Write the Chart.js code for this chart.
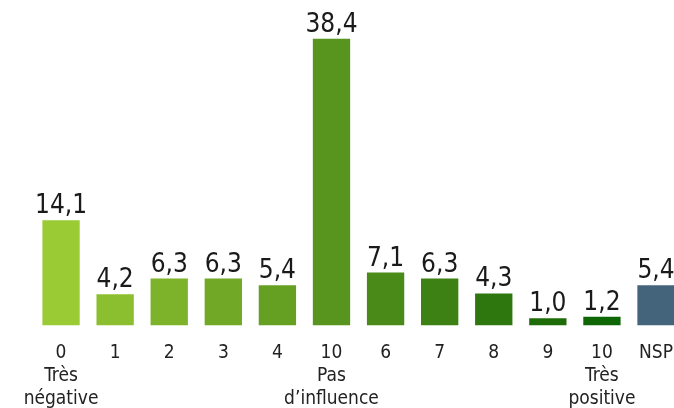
<!DOCTYPE html>
<html>
<head>
<meta charset="utf-8">
<script src="https://cdn.jsdelivr.net/npm/chart.js@4.4.1/dist/chart.umd.min.js"></script>
<style>
  html, body { margin: 0; padding: 0; background: #fff; overflow: hidden; }
  #wrap { width: 689px; height: 408px; }
</style>
</head>
<body>
<div id="wrap"><canvas id="chart"></canvas></div>
<script>
// Categories (first line = score, following lines = caption)
const categories = [
    ['0', 'Très', 'négative'], ['1'], ['2'], ['3'], ['4'],
    ['10', 'Pas', 'd\u2019influence'], ['6'], ['7'], ['8'], ['9'],
    ['10', 'Très', 'positive'], ['NSP']
];
const values = [14.1, 4.2, 6.3, 6.3, 5.4, 38.4, 7.1, 6.3, 4.3, 1.0, 1.2, 5.4];
const barColors = [
    '#9ACB34', '#8CBF2F', '#7DB32A', '#71A926', '#65A022', '#57951E',
    '#4A8A19', '#3D8013', '#2E760E', '#1E6C08', '#0E6604', '#44647C'
];

const fontFamily = "'DejaVu Sans Condensed', Roboto, sans-serif";

// Draws the value above each bar, French decimal comma
const valueLabels = {
    id: 'valueLabels',
    afterDatasetsDraw(chart) {
        const ctx = chart.ctx;
        const meta = chart.getDatasetMeta(0);
        ctx.save();
        ctx.font = '26px ' + fontFamily;
        ctx.fillStyle = '#1a1a1a';
        ctx.textAlign = 'center';
        ctx.textBaseline = 'alphabetic';
        meta.data.forEach(function (bar, i) {
            const txt = values[i].toFixed(1).replace('.', ',');
            ctx.fillText(txt, bar.x, bar.y - 7);
        });
        ctx.restore();
    }
};

const ctx = document.getElementById('chart').getContext('2d');
new Chart(ctx, {
    type: 'bar',
    data: {
        labels: categories,
        datasets: [{
            data: values,
            backgroundColor: barColors,
            borderWidth: 0,
            barPercentage: 0.69,
            categoryPercentage: 1.0
        }]
    },
    options: {
        responsive: true,
        maintainAspectRatio: false,
        animation: false,
        layout: {
            padding: {left: 34, right: 0, top: 0, bottom: -18}
        },
        plugins: {
            legend: {display: false},
            tooltip: {enabled: false}
        },
        scales: {
            x: {
                grid: {display: false, drawTicks: false},
                border: {display: false},
                ticks: {
                    autoSkip: false,
                    maxRotation: 0,
                    padding: 16,
                    color: '#222',
                    font: {size: 19, family: fontFamily, lineHeight: 1.2}
                }
            },
            y: {
                display: false,
                min: 0,
                max: 43.6
            }
        }
    },
    plugins: [valueLabels]
});
</script>
</body>
</html>
